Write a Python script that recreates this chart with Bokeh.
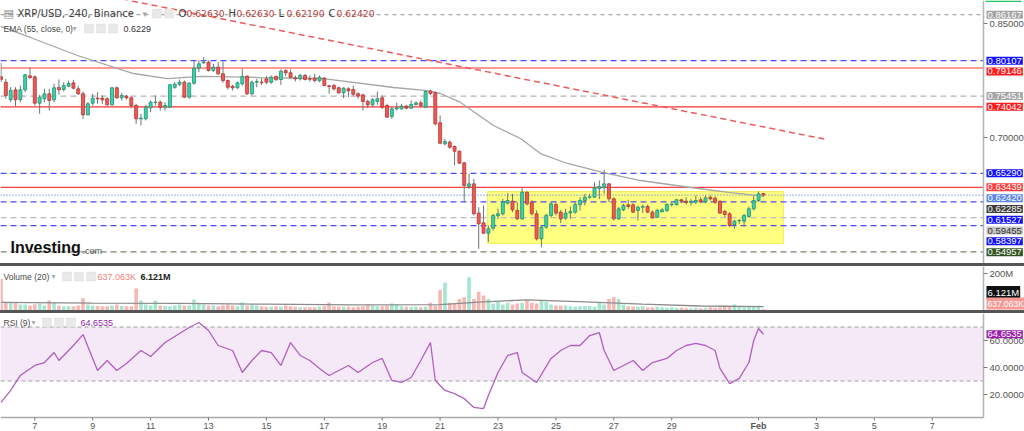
from bokeh.plotting import figure
from bokeh.models import (Range1d, Label, Div, BoxAnnotation, ColumnDataSource)
from bokeh.layouts import column
from bokeh.embed import file_html
from bokeh.resources import INLINE

FONT = "Liberation Sans"
HFONT = "DejaVu Sans"

# ---------------- data ----------------
candle_start_day = 5 + 20 / 24      # Jan 5, 20:00 (x axis = day of January)
candle_step_day = 4 / 24            # 240-minute candles

opens = [0.7800, 0.7728, 0.7500, 0.7627, 0.7500, 0.7627, 0.7811, 0.7798, 0.7452, 0.7509,
         0.7575, 0.7496, 0.7658, 0.7632, 0.7675, 0.7719, 0.7640, 0.7575, 0.7298, 0.7452,
         0.7518, 0.7518, 0.7509, 0.7430, 0.7654, 0.7522, 0.7544, 0.7522, 0.7421, 0.7246,
         0.7246, 0.7390, 0.7461, 0.7465, 0.7399, 0.7399, 0.7660, 0.7700, 0.7728, 0.7531,
         0.7715, 0.7912, 0.7983, 0.7991, 0.7882, 0.7925, 0.7838, 0.7750, 0.7675, 0.7654,
         0.7706, 0.7807, 0.7575, 0.7728, 0.7728, 0.7772, 0.7728, 0.7803, 0.7763, 0.7882,
         0.7851, 0.7785, 0.7772, 0.7816, 0.7772, 0.7781, 0.7746, 0.7781, 0.7680, 0.7684,
         0.7654, 0.7588, 0.7640, 0.7632, 0.7575, 0.7561, 0.7474, 0.7430, 0.7474, 0.7522,
         0.7421, 0.7276, 0.7377, 0.7377, 0.7412, 0.7386, 0.7434, 0.7456, 0.7399, 0.7610,
         0.7588, 0.7193, 0.6917, 0.6939, 0.6881, 0.6820, 0.6667, 0.6355, 0.6390, 0.6005,
         0.5877, 0.5741, 0.5807, 0.5970, 0.5996, 0.6136, 0.6162, 0.6040, 0.5930, 0.6281,
         0.6149, 0.5996, 0.5667, 0.5820, 0.5974, 0.6118, 0.6018, 0.5939, 0.6005, 0.6018,
         0.6118, 0.6171, 0.6215, 0.6215, 0.6325, 0.6346, 0.6390, 0.6193, 0.5930, 0.6048,
         0.6114, 0.6114, 0.6040, 0.6083, 0.6092, 0.6018, 0.5952, 0.6022, 0.6040, 0.6118,
         0.6118, 0.6180, 0.6162, 0.6145, 0.6149, 0.6180, 0.6153, 0.6215, 0.6202, 0.6162,
         0.6027, 0.5996, 0.5855, 0.5904, 0.5899, 0.5961, 0.6062, 0.6171, 0.6263]
highs = [0.7983, 0.7772, 0.7662, 0.7662, 0.7684, 0.7838, 0.7917, 0.7816, 0.7561, 0.7640,
         0.7640, 0.7706, 0.7763, 0.7728, 0.7750, 0.7759, 0.7684, 0.7605, 0.7465, 0.7575,
         0.7597, 0.7553, 0.7531, 0.7662, 0.7671, 0.7588, 0.7561, 0.7544, 0.7443, 0.7311,
         0.7430, 0.7487, 0.7553, 0.7487, 0.7465, 0.7706, 0.7728, 0.7763, 0.7750, 0.7728,
         0.8009, 0.8013, 0.8057, 0.8013, 0.7969, 0.7991, 0.8000, 0.7763, 0.7693, 0.7737,
         0.7904, 0.7816, 0.7750, 0.7772, 0.7781, 0.7807, 0.7816, 0.7816, 0.7895, 0.7895,
         0.7895, 0.7816, 0.7838, 0.7838, 0.7816, 0.7838, 0.7816, 0.7794, 0.7693, 0.7706,
         0.7671, 0.7662, 0.7662, 0.7684, 0.7597, 0.7575, 0.7500, 0.7518, 0.7605, 0.7553,
         0.7443, 0.7399, 0.7456, 0.7443, 0.7430, 0.7487, 0.7474, 0.7487, 0.7618, 0.7627,
         0.7605, 0.7290, 0.6982, 0.6961, 0.6895, 0.6829, 0.6675, 0.6522, 0.6456, 0.6083,
         0.6105, 0.5842, 0.5996, 0.6062, 0.6193, 0.6267, 0.6259, 0.6149, 0.6338, 0.6290,
         0.6171, 0.6040, 0.5842, 0.5996, 0.6149, 0.6149, 0.6048, 0.6062, 0.6092, 0.6149,
         0.6215, 0.6259, 0.6259, 0.6412, 0.6434, 0.6575, 0.6399, 0.6215, 0.6083, 0.6127,
         0.6180, 0.6136, 0.6105, 0.6118, 0.6118, 0.6040, 0.6062, 0.6075, 0.6136, 0.6136,
         0.6193, 0.6193, 0.6215, 0.6193, 0.6237, 0.6215, 0.6237, 0.6237, 0.6224, 0.6171,
         0.6048, 0.6018, 0.5917, 0.5930, 0.5996, 0.6092, 0.6237, 0.6290, 0.6263]
lows = [0.7728, 0.7509, 0.7465, 0.7412, 0.7465, 0.7597, 0.7772, 0.7421, 0.7311, 0.7465,
        0.7355, 0.7465, 0.7561, 0.7605, 0.7662, 0.7632, 0.7561, 0.7246, 0.7290, 0.7421,
        0.7443, 0.7443, 0.7421, 0.7421, 0.7509, 0.7487, 0.7500, 0.7386, 0.7180, 0.7158,
        0.7224, 0.7333, 0.7421, 0.7355, 0.7355, 0.7386, 0.7640, 0.7675, 0.7522, 0.7509,
        0.7693, 0.7860, 0.7969, 0.7868, 0.7860, 0.7825, 0.7719, 0.7632, 0.7618, 0.7640,
        0.7684, 0.7561, 0.7553, 0.7662, 0.7693, 0.7706, 0.7706, 0.7750, 0.7693, 0.7807,
        0.7781, 0.7737, 0.7750, 0.7750, 0.7737, 0.7728, 0.7728, 0.7675, 0.7575, 0.7618,
        0.7575, 0.7518, 0.7531, 0.7544, 0.7509, 0.7355, 0.7386, 0.7399, 0.7430, 0.7377,
        0.7260, 0.7246, 0.7355, 0.7368, 0.7377, 0.7377, 0.7421, 0.7399, 0.7395, 0.7561,
        0.7158, 0.6910, 0.6895, 0.6851, 0.6632, 0.6654, 0.6149, 0.6325, 0.5974, 0.5535,
        0.5733, 0.5623, 0.5776, 0.5930, 0.5974, 0.6118, 0.6018, 0.5917, 0.5917, 0.6105,
        0.5974, 0.5645, 0.5557, 0.5798, 0.5952, 0.5974, 0.5873, 0.5917, 0.5930, 0.5996,
        0.6040, 0.6105, 0.6193, 0.6206, 0.6193, 0.6259, 0.6149, 0.5908, 0.5917, 0.6031,
        0.6062, 0.6005, 0.5908, 0.6005, 0.6005, 0.5930, 0.5943, 0.6018, 0.6018, 0.6092,
        0.6105, 0.6136, 0.6118, 0.6105, 0.6127, 0.6136, 0.6136, 0.6171, 0.6127, 0.5996,
        0.5952, 0.5820, 0.5798, 0.5864, 0.5829, 0.5943, 0.6040, 0.6149, 0.6219]
closes = [0.7765, 0.7553, 0.7618, 0.7496, 0.7627, 0.7825, 0.7790, 0.7452, 0.7531, 0.7575,
          0.7487, 0.7654, 0.7627, 0.7684, 0.7711, 0.7649, 0.7575, 0.7298, 0.7443, 0.7518,
          0.7509, 0.7496, 0.7430, 0.7654, 0.7522, 0.7553, 0.7522, 0.7421, 0.7246, 0.7255,
          0.7399, 0.7465, 0.7465, 0.7399, 0.7421, 0.7693, 0.7700, 0.7728, 0.7531, 0.7715,
          0.7912, 0.7969, 0.7991, 0.7882, 0.7925, 0.7838, 0.7750, 0.7662, 0.7654, 0.7719,
          0.7803, 0.7575, 0.7728, 0.7737, 0.7720, 0.7728, 0.7794, 0.7759, 0.7873, 0.7851,
          0.7790, 0.7772, 0.7816, 0.7763, 0.7768, 0.7750, 0.7790, 0.7684, 0.7671, 0.7640,
          0.7588, 0.7649, 0.7614, 0.7570, 0.7544, 0.7474, 0.7430, 0.7496, 0.7509, 0.7399,
          0.7268, 0.7377, 0.7390, 0.7412, 0.7386, 0.7434, 0.7456, 0.7421, 0.7605, 0.7579,
          0.7180, 0.6925, 0.6947, 0.6873, 0.6820, 0.6662, 0.6368, 0.6390, 0.5996, 0.5864,
          0.5741, 0.5798, 0.5974, 0.5996, 0.6149, 0.6171, 0.6048, 0.5930, 0.6281, 0.6127,
          0.5996, 0.5667, 0.5820, 0.5974, 0.6127, 0.6005, 0.5930, 0.6005, 0.6027, 0.6118,
          0.6171, 0.6215, 0.6220, 0.6338, 0.6355, 0.6390, 0.6193, 0.5930, 0.6062, 0.6105,
          0.6092, 0.6018, 0.6083, 0.6092, 0.6018, 0.5943, 0.6040, 0.6048, 0.6118, 0.6123,
          0.6180, 0.6162, 0.6145, 0.6162, 0.6171, 0.6153, 0.6206, 0.6193, 0.6149, 0.6005,
          0.5987, 0.5842, 0.5899, 0.5908, 0.5974, 0.6062, 0.6171, 0.6259, 0.6242]
volumes_m = [170, 40, 40, 40, 30, 30, 25, 32, 35, 25, 52, 40, 25, 20, 20, 20, 25, 65, 30, 25,
             22, 20, 20, 25, 30, 22, 20, 20, 118, 52, 30, 25, 52, 25, 22, 20, 25, 30, 25, 25,
             58, 40, 30, 25, 25, 20, 25, 30, 25, 20, 41, 25, 30, 25, 20, 18, 18, 20, 18, 25,
             20, 18, 15, 15, 15, 15, 18, 20, 41, 20, 18, 18, 18, 15, 18, 20, 30, 25, 20, 20,
             25, 35, 30, 20, 18, 15, 18, 15, 18, 40, 25, 110, 150, 40, 35, 60, 70, 180, 60, 100,
             80, 60, 35, 45, 30, 40, 30, 35, 40, 50, 40, 35, 50, 45, 30, 25, 25, 25, 20, 18,
             20, 22, 20, 18, 40, 30, 60, 70, 60, 30, 20, 18, 18, 20, 15, 15, 18, 15, 12, 15,
             12, 12, 10, 10, 12, 10, 12, 15, 12, 15, 25, 20, 30, 20, 15, 18, 22, 25, 4]
vol_ma_day = [5.82, 9.0, 12.0, 15.0, 18.0, 21.0, 22.5, 24.0, 26.0, 28.0, 30.0, 32.18]
vol_ma_m = [42, 38, 36, 32, 28, 30, 45, 55, 45, 32, 22, 18]

ema_day = [5.815, 6.851, 8.475, 10.409, 11.584, 12.724, 14.796, 16.972, 19.39, 20.565, 21.014,
           21.705, 22.845, 23.777, 24.468, 25.401, 26.645, 27.923, 29.65, 31.032, 32.167]
ema_val = [0.8461, 0.8316, 0.8079, 0.7842, 0.7776, 0.7803, 0.7789, 0.7776, 0.7658, 0.7618, 0.7579,
           0.7461, 0.7158, 0.6987, 0.6789, 0.6658, 0.6539, 0.6434, 0.6342, 0.6276, 0.6229]

rsi_idx = [0, 2, 4, 7, 9, 11, 12, 15, 17, 20, 22, 24, 26, 29, 31, 34, 37, 39, 41, 43, 45, 48, 50,
           52, 54, 56, 58, 60, 62, 64, 66, 68, 70, 72, 74, 77, 79, 81, 83, 85, 87, 89, 90, 92, 94,
           96, 98, 100, 101, 103, 105, 107, 108, 111, 114, 116, 118, 120, 122, 124, 125, 127, 129,
           131, 133, 135, 138, 140, 142, 144, 146, 148, 149, 151, 153, 155, 156, 157, 158]
rsi_val = [14.1, 23.0, 34.1, 41.5, 43.7, 51.1, 45.2, 56.3, 64.4, 37.8, 45.2, 37.8, 43.0, 52.6, 48.1,
           58.5, 65.2, 69.6, 73.3, 67.4, 56.3, 52.6, 36.3, 45.2, 52.6, 51.1, 41.5, 58.5, 48.9, 45.2,
           39.3, 34.1, 37.8, 41.5, 36.3, 43.7, 46.7, 30.4, 28.9, 32.6, 45.2, 58.5, 30.4, 23.0, 20.7,
           17.0, 10.4, 9.6, 19.3, 36.3, 48.9, 51.1, 36.3, 28.9, 46.7, 52.6, 56.3, 56.3, 63.7, 65.9,
           52.6, 37.8, 41.5, 45.2, 37.8, 43.7, 46.7, 52.6, 56.3, 57.8, 56.3, 52.6, 39.3, 28.1, 31.9,
           43.7, 60.0, 68.9, 64.6535]

trend_day = [9.0, 34.35]
trend_price = [0.8899, 0.6974]
zone_day = [22.64, 32.86]
zone_price = [0.5605, 0.6289]

# price levels: (price, line colour, dash, label bg, label text colour)
levels = [
    (0.86167, "#a8a8a8", "4 4", "#a3a3a3", "white"),
    (0.80107, "#4a4aff", "6 4", "#1010ff", "white"),
    (0.79146, "#ff3030", "solid", "#ff1a1a", "white"),
    (0.75451, "#b4b4b4", "6 4", "#a6a6a6", "white"),
    (0.74042, "#ff3030", "solid", "#ff1a1a", "white"),
    (0.65290, "#4a4aff", "6 4", "#1010ff", "white"),
    (0.63439, "#ff4040", "solid", "#ff3b3b", "white"),
    (0.62420, "#5b7fe8", "1 2", "#5a86ec", "white"),
    (0.62285, None, None, "#3c3c3c", "white"),
    (0.61527, "#4a4aff", "6 4", "#1010ff", "white"),
    (0.59455, "#bcbcbc", "6 4", "#c6c6c6", "#333333"),
    (0.58397, "#4a4aff", "6 4", "#1010ff", "white"),
    (0.54957, "#7a8270", "6 4", "#2f5320", "white"),
]
price_ticks = [0.85, 0.70]
vol_ticks = [200]
vol_tick_labels = ["200M"]
rsi_ticks = [60, 40, 20]
rsi_bands = [30, 70]

x_tick_days = [7, 9, 11, 13, 15, 17, 19, 21, 23, 25, 27, 29, 32, 34, 36, 38]
x_tick_labels = ["7", "9", "11", "13", "15", "17", "19", "21", "23", "25", "27", "29",
                 "Feb", "3", "5", "7"]

# ---------------- layout constants ----------------
W = 1024
AX_PX = 983                   # price-scale line position
DAY_PER_PX = 33.955 / 983
X0 = 5.815
X1 = X0 + W * DAY_PER_PX
MAIN_H = 263
PX_PER_PRICE = 760.0
MAIN_TOP = 0.85 + 23 / PX_PER_PRICE
MAIN_BOT = MAIN_TOP - MAIN_H / PX_PER_PRICE
VOL_H = 44
VOL_PER_PX = 200 / 36.5
VOL_TOP = 200 + 7 * VOL_PER_PX
VOL_BOT = VOL_TOP - VOL_H * VOL_PER_PX
RSI_H = 118
RSI_PX = 1.35
RSI_TOP = 80.0
RSI_BOT = RSI_TOP - RSI_H / RSI_PX
XAX_PX = 104                  # x-axis line inside RSI pane

xr = Range1d(X0, X1)
n = len(closes)
t = [candle_start_day + i * candle_step_day for i in range(n)]
up = [closes[i] >= opens[i] for i in range(n)]

def px_to_day(px):
    return X0 + px * DAY_PER_PX

AX_DAY = px_to_day(AX_PX)

def px_to_price(py):
    return MAIN_TOP - py / PX_PER_PRICE

def price_to_px(pr):
    return (MAIN_TOP - pr) * PX_PER_PRICE

AX_COL = "#555555"

def base_fig(h, yr):
    f = figure(width=W, height=h, x_range=xr, y_range=yr, output_backend="svg",
               toolbar_location=None, x_axis_location=None, y_axis_location=None,
               min_border_left=0, min_border_right=0, min_border_top=0, min_border_bottom=0,
               background_fill_color="white", border_fill_color="white")
    f.xgrid.visible = False
    f.ygrid.visible = False
    f.outline_line_color = None
    return f

def text(f, s, x, y, size="10px", color="#4a4a4a", style="normal", font=FONT,
         xunits="screen", align="left"):
    f.add_layout(Label(x=x, y=y, x_units=xunits, y_units="data", text=s,
                       text_font=font, text_font_size=size, text_color=color,
                       text_font_style=style, text_baseline="middle", text_align=align))

def tag(f, s, y, bg, fg, x_px=AX_PX + 3, size="9.5px"):
    f.add_layout(Label(x=x_px, y=y, x_units="screen", y_units="data", text=s,
                       text_font=FONT, text_font_size=size, text_color=fg,
                       text_baseline="middle", text_align="left",
                       background_fill_color=bg, background_fill_alpha=1.0, padding=1))

def price_scale(f, lo, hi, ticks, labels):
    f.segment(x0=[AX_DAY], y0=[lo], x1=[AX_DAY], y1=[hi], line_color="#b4b4b4", line_width=1.5)
    f.segment(x0=[AX_DAY] * len(ticks), y0=ticks, x1=[px_to_day(AX_PX + 4)] * len(ticks),
              y1=ticks, line_color="#7a7a7a", line_width=1)
    for tk, lb in zip(ticks, labels):
        text(f, lb, AX_PX + 6, tk, "9.5px", AX_COL)

def icons(f, x_list, y_val, half_h):
    for xp in x_list:
        f.add_layout(BoxAnnotation(left=px_to_day(xp), right=px_to_day(xp + 9),
                                   bottom=y_val - half_h, top=y_val + half_h,
                                   fill_color="#e9e9e9", fill_alpha=1, line_color="#d2d2d2"))

# ---------------- main pane ----------------
pm = base_fig(MAIN_H, Range1d(MAIN_BOT, MAIN_TOP))

pm.quad(left=[zone_day[0]], right=[zone_day[1]], bottom=[zone_price[0]], top=[zone_price[1]],
        fill_color="#ffff80", line_color="#f2f25a", line_width=1)

for pr, lc, dash, bg, fg in levels:
    if lc is not None:
        pm.segment(x0=[X0], y0=[pr], x1=[AX_DAY], y1=[pr], line_color=lc,
                   line_dash=dash, line_width=1.2)

pm.line(ema_day, ema_val, line_color="#a6a6a6", line_width=1.3)
pm.line(trend_day, trend_price, line_color="#f05a5a", line_width=1.5, line_dash="6 4")

src = ColumnDataSource(dict(
    t=t, o=opens, h=highs, l=lows, c=closes,
    top=[max(opens[i], closes[i]) for i in range(n)],
    bot=[min(opens[i], closes[i]) for i in range(n)],
    fill=["#3cd3aa" if u else "#ef5a55" for u in up],
    edge=["#1e8f72" if u else "#b83431" for u in up],
    vcol=["#a5e6cf" if u else "#f7b8b5" for u in up],
    v=volumes_m,
))
pm.segment(x0="t", y0="h", x1="t", y1="l", source=src, line_color="#6a7873", line_width=1)
pm.vbar(x="t", width=candle_step_day * 0.62, top="top", bottom="bot", source=src,
        fill_color="fill", line_color="edge", line_width=0.8)

price_scale(pm, MAIN_BOT, MAIN_TOP, price_ticks, [f"{v:.5f}" for v in price_ticks])
pm.quad(left=[px_to_day(AX_PX + 2)], right=[px_to_day(AX_PX + 38)],
        bottom=[px_to_price(1.5)], top=[MAIN_TOP], fill_color="#22c55e", line_color=None)

# stacked price tags on the price scale
prev = -1e9
for pr, lc, dash, bg, fg in sorted(levels, key=lambda r: -r[0]):
    py = max(price_to_px(pr), prev + 10.8)
    prev = py
    tag(pm, f"{pr:.5f}", px_to_price(py), bg, fg)

# header texts
H1 = px_to_price(13)
text(pm, "\u25a4", 3, H1, "11px", "#8a8a8a", font=HFONT)
text(pm, "XRP/USD, 240, Binance", 17, H1, "10px", "#3a3a3a", font=HFONT)
text(pm, "\u25be", 142, H1, "9px", "#aaaaaa", font=HFONT)
icons(pm, [152, 164], H1, 4.5 / PX_PER_PRICE)
ohlc = [("O", opens[-1]), ("H", highs[-1]), ("L", lows[-1]), ("C", closes[-1])]
xx = 178
for k, v in ohlc:
    text(pm, k, xx, H1, "10px", "#3a3a3a", font=HFONT)
    text(pm, f"{v:.5f}", xx + 8, H1, "9.2px", "#b5403c", font=HFONT)
    xx += 50
H2 = px_to_price(28)
text(pm, "EMA (55, close, 0)", 3, H2, "8.5px", "#4a4a4a")
text(pm, "\u25be", 72, H2, "8px", "#aaaaaa", font=HFONT)
icons(pm, [84, 96, 108], H2, 4.5 / PX_PER_PRICE)
text(pm, f"{ema_val[-1]:.4f}", 123, H2, "9px", "#333333")
text(pm, "Investing", 10, px_to_price(247), "16px", "#111111", "bold")
text(pm, ".com", 82, px_to_price(250), "9px", "#555555")

# ---------------- volume pane ----------------
pv = base_fig(VOL_H, Range1d(VOL_BOT, VOL_TOP))
pv.vbar(x="t", width=candle_step_day * 0.75, top="v", bottom=0, source=src,
        fill_color="vcol", line_color=None)
pv.line(vol_ma_day, vol_ma_m, line_color="#8c8c8c", line_width=1.3)
price_scale(pv, VOL_BOT, VOL_TOP, vol_ticks, vol_tick_labels)
vpx = lambda py: VOL_TOP - py * VOL_PER_PX
text(pv, "Volume (20)", 3, vpx(10), "8.5px", "#4a4a4a")
text(pv, "\u25be", 51, vpx(10), "8px", "#aaaaaa", font=HFONT)
icons(pv, [62, 74, 86], vpx(10), 4.5 * VOL_PER_PX)
text(pv, "637.063K", 97, vpx(10), "9px", "#f07f7a")
text(pv, "6.121M", 140, vpx(10), "9px", "#222222", "bold")
tag(pv, "6.121M", vpx(26), "#111111", "white")
tag(pv, "637.063K", vpx(37), "#f79a96", "white", size="8.5px")

# ---------------- RSI pane ----------------
pr_ = base_fig(RSI_H, Range1d(RSI_BOT, RSI_TOP))
rpx = lambda py: RSI_TOP - py / RSI_PX
XAX_VAL = rpx(XAX_PX)
pr_.quad(left=[X0], right=[AX_DAY], bottom=[rsi_bands[0]], top=[rsi_bands[1]],
         fill_color="#9c27b0", fill_alpha=0.1, line_color=None)
for lv in rsi_bands:
    pr_.segment(x0=[X0], y0=[lv], x1=[AX_DAY], y1=[lv], line_color="#a0a0a0",
                line_dash="4 3", line_width=1)
rsi_t = [candle_start_day + i * candle_step_day for i in rsi_idx]
pr_.line(rsi_t, rsi_val, line_color="#b160c2", line_width=1.3)
price_scale(pr_, XAX_VAL, RSI_TOP, rsi_ticks, [f"{v:.4f}" for v in rsi_ticks])
text(pr_, "RSI (9)", 3, rpx(9), "8.5px", "#4a4a4a")
text(pr_, "\u25be", 31, rpx(9), "8px", "#aaaaaa", font=HFONT)
icons(pr_, [42, 54, 66], rpx(9), 4.5 / RSI_PX)
text(pr_, f"{rsi_val[-1]:.4f}", 80, rpx(9), "9px", "#8e24aa")
tag(pr_, f"{rsi_val[-1]:.4f}", rsi_val[-1], "#9a1fa8", "white")

# time axis (drawn inside the RSI pane)
pr_.segment(x0=[X0], y0=[XAX_VAL], x1=[AX_DAY], y1=[XAX_VAL], line_color="#a8a8a8", line_width=1.5)
pr_.segment(x0=x_tick_days, y0=[XAX_VAL] * len(x_tick_days), x1=x_tick_days,
            y1=[rpx(XAX_PX + 3)] * len(x_tick_days), line_color="#7a7a7a", line_width=1)
for d, s in zip(x_tick_days, x_tick_labels):
    text(pr_, s, d, rpx(XAX_PX + 8), "9px", AX_COL, "bold" if s == "Feb" else "normal",
         xunits="data", align="center")

def sep():
    return Div(text="", width=W, height=3, margin=0,
               styles={"background-color": "#555555"})

layout = column(pm, sep(), pv, sep(), pr_, spacing=0)
open("out.html", "w").write(file_html(layout, INLINE))
